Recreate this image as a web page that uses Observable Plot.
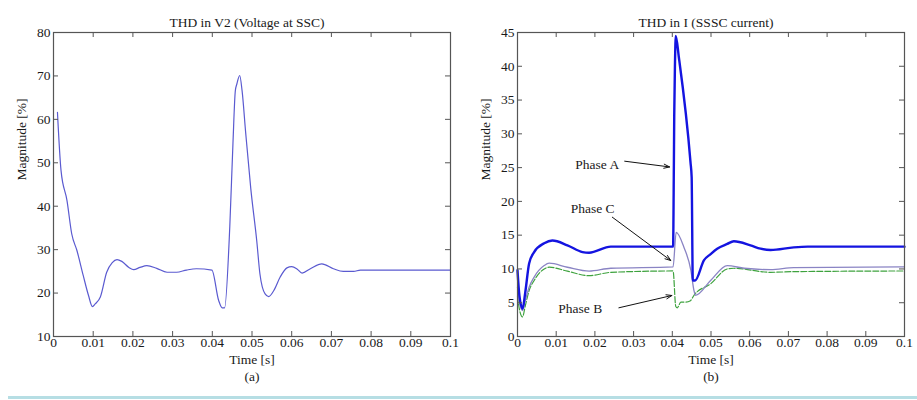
<!DOCTYPE html>
<html>
<head>
<meta charset="utf-8">
<script src="https://cdn.jsdelivr.net/npm/d3@7"></script>
<script src="https://cdn.jsdelivr.net/npm/@observablehq/plot@0.6"></script>
<style>
  html, body { margin: 0; padding: 0; background: #fff; }
  #wrap { position: relative; width: 917px; height: 400px; overflow: hidden; background: #fff; }
  #left { position: absolute; left: 0; top: 0; }
  #right { position: absolute; left: 460px; top: 0; }
  #sep { position: absolute; left: 8px; top: 396px; width: 909px; height: 3px; background: #b6dee4; }
</style>
</head>
<body>
<div id="wrap">
  <div id="left"></div>
  <div id="right"></div>
  <div id="sep"></div>
</div>
<script>
// ---- tick values and labels ----
const xTicks = [0, 0.01, 0.02, 0.03, 0.04, 0.05, 0.06, 0.07, 0.08, 0.09, 0.1];
const xTickLabels = ["0", "0.01", "0.02", "0.03", "0.04", "0.05", "0.06", "0.07", "0.08", "0.09", "0.1"];
const yTicksA = [10, 20, 30, 40, 50, 60, 70, 80];
const yTicksB = [0, 5, 10, 15, 20, 25, 30, 35, 40, 45];

// ---- panel (a): THD in V2 ----
const tA = [0.001, 0.0019, 0.0034, 0.0046, 0.0059, 0.0075, 0.0088, 0.0098, 0.0105, 0.0118, 0.0134, 0.0148, 0.016, 0.0172, 0.019, 0.0202, 0.0218, 0.0235, 0.026, 0.0286, 0.031, 0.0335, 0.036, 0.0399, 0.0416, 0.0425, 0.0431, 0.0444, 0.0452, 0.0458, 0.0462, 0.0469, 0.0475, 0.0484, 0.0497, 0.0512, 0.052, 0.0533, 0.0542, 0.0555, 0.0571, 0.0588, 0.06, 0.0614, 0.0626, 0.0647, 0.0676, 0.0705, 0.073, 0.0756, 0.0773, 0.1];
const vA = [61.6, 48.2, 41.3, 33.6, 29.8, 24.0, 19.5, 16.9, 17.5, 19.1, 24.8, 27.0, 27.7, 27.3, 25.9, 25.4, 25.9, 26.3, 25.7, 24.8, 24.8, 25.3, 25.6, 25.3, 18.3, 16.6, 16.6, 35.2, 54.4, 66.6, 68.2, 70.1, 66.6, 57.0, 44.0, 32.0, 24.4, 19.8, 19.2, 20.6, 23.7, 25.8, 26.1, 25.5, 24.6, 25.6, 26.7, 25.6, 25.0, 25.0, 25.3, 25.3];

// ---- panel (b): THD in I, three phases ----
const tPhA = [0, 0.0005, 0.0013, 0.002, 0.003, 0.0043, 0.0069, 0.009, 0.0129, 0.0168, 0.0185, 0.0241, 0.0402, 0.0404, 0.0405, 0.0407, 0.0409, 0.0417, 0.0447, 0.045, 0.0453, 0.0459, 0.0482, 0.0499, 0.0516, 0.0542, 0.0559, 0.0602, 0.0628, 0.0654, 0.0714, 0.075, 0.1];
const vPhA = [9.8, 6.0, 4.1, 6.5, 10.8, 12.5, 13.8, 14.2, 13.5, 12.5, 12.4, 13.3, 13.3, 25.0, 32.7, 40.6, 44.5, 41.3, 25.8, 23.6, 8.3, 8.3, 11.3, 12.2, 13.0, 13.7, 14.1, 13.5, 13.0, 12.8, 13.2, 13.3, 13.3];

const tPhC = [0, 0.0005, 0.0013, 0.002, 0.003, 0.0043, 0.0069, 0.0082, 0.0129, 0.0185, 0.0241, 0.0402, 0.041, 0.043, 0.0448, 0.0456, 0.046, 0.0499, 0.0542, 0.0586, 0.0654, 0.0714, 0.1];
const vPhC = [7.3, 5.0, 3.85, 5.3, 7.3, 8.8, 10.5, 10.85, 10.25, 9.67, 10.1, 10.3, 15.4, 13.2, 9.8, 6.8, 6.1, 8.3, 10.5, 10.1, 9.9, 10.2, 10.3];

const tPhB = [0, 0.0005, 0.0013, 0.002, 0.003, 0.0043, 0.0069, 0.0082, 0.0129, 0.0185, 0.0241, 0.0402, 0.0409, 0.0413, 0.0422, 0.0435, 0.0447, 0.0456, 0.0499, 0.0542, 0.0559, 0.0654, 0.0714, 0.1];
const vPhB = [6.0, 4.0, 2.9, 4.5, 6.8, 8.3, 10.0, 10.26, 9.67, 9.0, 9.5, 9.7, 4.44, 4.25, 5.1, 5.1, 5.3, 6.1, 7.8, 10.0, 10.1, 9.5, 9.6, 9.7];

// ---- annotations (label, label position, arrow start, arrow tip) ----
const annLabels = ["Phase A", "Phase C", "Phase B"];
const annTextT = [0.0206, 0.0194, 0.0162];
const annTextV = [25.4, 18.9, 4.1];
const annFromT = [0.0277, 0.0245, 0.0262];
const annFromV = [25.95, 17.66, 4.25];
const annToT = [0.0393, 0.0396, 0.0399];
const annToV = [25.1, 11.25, 6.07];

// ---- titles / labels ----
const titleA = "THD in V2 (Voltage at SSC)";
const titleB = "THD in I (SSSC current)";
const xLabel = "Time [s]";
const yLabel = "Magnitude [%]";
const tagA = "(a)";
const tagB = "(b)";

// ---- build tables ----
const zip = (ts, vs) => ts.map((t, i) => ({t, v: vs[i]}));
const dataA = zip(tA, vA);
const dataPhA = zip(tPhA, vPhA);
const dataPhB = zip(tPhB, vPhB);
const dataPhC = zip(tPhC, vPhC);
const ann = annLabels.map((label, i) => ({
  label, tt: annTextT[i], tv: annTextV[i],
  t1: annFromT[i], v1: annFromV[i], t2: annToT[i], v2: annToV[i]
}));

const FONT = "Liberation Serif";
const FS = 13.5;
const INK = "#1a1a1a";
const H = 400, MT = 32, MB = 64;
const fmtX = d => xTickLabels[xTicks.findIndex(x => Math.abs(x - d) < 1e-9)];

function panel({width, ml, mr, yDomain, yTicks, title, tag, ylabelDx, lines, extra = []}) {
  const fw = width - ml - mr;
  const fh = H - MT - MB;
  return Plot.plot({
    width, height: H,
    marginLeft: ml, marginRight: mr, marginTop: MT, marginBottom: MB,
    style: {fontFamily: FONT, fontSize: FS + "px", color: INK, background: "transparent", overflow: "visible"},
    x: {domain: [0, 0.1]},
    y: {domain: yDomain},
    marks: [
      ...lines,
      ...extra,
      Plot.frame({stroke: "#555", strokeWidth: 1.2}),
      // inward ticks on all four sides
      Plot.tickX(xTicks, {x: d => d, insetBottom: fh - 5, stroke: "#555"}),
      Plot.tickX(xTicks, {x: d => d, insetTop: fh - 5, stroke: "#555"}),
      Plot.tickY(yTicks, {y: d => d, insetRight: fw - 5, stroke: "#555"}),
      Plot.tickY(yTicks, {y: d => d, insetLeft: fw - 5, stroke: "#555"}),
      Plot.axisX(xTicks, {tickSize: 0, tickPadding: 1, tickFormat: fmtX, label: null, fontSize: FS, fill: INK}),
      Plot.axisY(yTicks, {tickSize: 0, tickPadding: 3, label: null, fontSize: FS, fill: INK}),
      Plot.text([title], {text: d => d, frameAnchor: "top", dx: -5, dy: -15, fontSize: FS, fill: INK}),
      Plot.text([xLabel], {text: d => d, frameAnchor: "bottom", dy: 27.5, fontSize: FS, fill: INK}),
      Plot.text([tag], {text: d => d, frameAnchor: "bottom", dy: 44, fontSize: FS, fill: INK}),
      Plot.text([yLabel], {text: d => d, frameAnchor: "left", dx: ylabelDx, dy: -4, rotate: -90, fontSize: FS, fill: INK})
    ]
  });
}

const left = panel({
  width: 460, ml: 53, mr: 10, yDomain: [10, 80], yTicks: yTicksA,
  title: titleA, tag: tagA, ylabelDx: -32,
  lines: [Plot.line(dataA, {x: "t", y: "v", stroke: "#5a5ad0", strokeWidth: 1.2, curve: "monotone-x"})]
});

const right = panel({
  width: 457, ml: 57, mr: 13, yDomain: [0, 45], yTicks: yTicksB,
  title: titleB, tag: tagB, ylabelDx: -32,
  lines: [
    Plot.line(dataPhB, {x: "t", y: "v", stroke: "#3ea23e", strokeWidth: 1.2, strokeDasharray: "6,2", curve: "monotone-x"}),
    Plot.line(dataPhC, {x: "t", y: "v", stroke: "#8a84c4", strokeWidth: 1.3, curve: "monotone-x"}),
    Plot.line(dataPhA, {x: "t", y: "v", stroke: "#1414e0", strokeWidth: 2.4, curve: "monotone-x"})
  ],
  extra: [
    Plot.arrow(ann, {x1: "t1", y1: "v1", x2: "t2", y2: "v2", stroke: "#111", strokeWidth: 1, headLength: 9, headAngle: 40}),
    Plot.text(ann, {x: "tt", y: "tv", text: "label", fontSize: FS, fill: INK})
  ]
});

document.getElementById("left").appendChild(left);
document.getElementById("right").appendChild(right);
</script>
</body>
</html>
